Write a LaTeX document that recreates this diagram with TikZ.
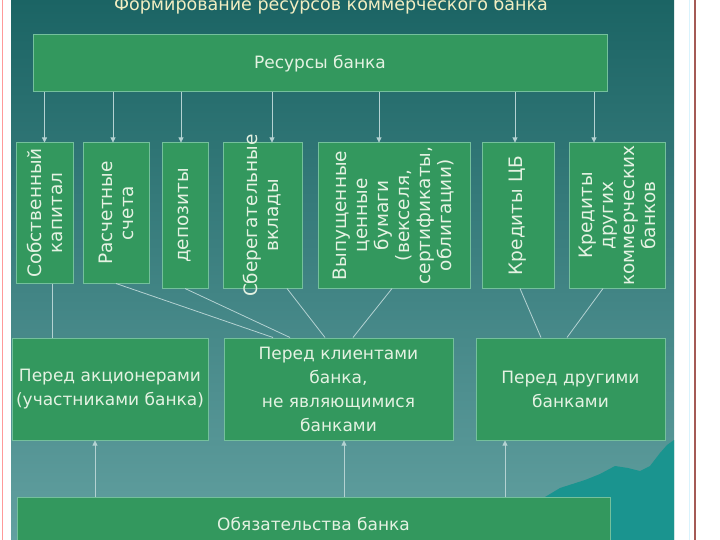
\documentclass[tikz,border=0pt]{standalone}
\usepackage{fontspec}
\setmainfont{DejaVu Sans}
\usetikzlibrary{arrows.meta}

\definecolor{bgtop}{HTML}{1B6464}
\definecolor{bgmid}{HTML}{3C8081}
\definecolor{bgbot}{HTML}{62A0A0}
\definecolor{boxgreen}{HTML}{33985E}
\definecolor{boxedge}{HTML}{74C09C}
\definecolor{txt}{HTML}{E4F2E2}
\definecolor{linkcol}{HTML}{B4D2D2}
\definecolor{hill}{HTML}{1A948F}
\definecolor{titlecol}{HTML}{F2EEC2}
\definecolor{rim}{HTML}{A45A55}

\begin{document}
\begin{tikzpicture}[
    x=1pt, y=-1pt,
    % green boxes
    gbox/.style={draw=boxedge, fill=boxgreen, line width=1pt, inner sep=0pt},
    % boxes with horizontal text
    hbox/.style={gbox, text=txt, font=\fontsize{17}{24}\selectfont, align=center},
    % turned text of the narrow boxes
    vtext/.style={rotate=90, text=txt, font=\fontsize{18.5}{21}\selectfont, align=center, inner sep=0pt},
    % thin light lines
    link/.style={draw=linkcol, line width=0.8pt},
    arr/.style={link, -{Triangle[length=5pt,width=5pt]}}
]
\clip (0,0) rectangle (720,540);

% frame and background
\fill[white] (0,0) rectangle (720,540);
\draw[red!40, line width=0.8pt] (2,0) -- (2,540);
\shade[top color=bgtop, middle color=bgmid, bottom color=bgbot] (11,0) rectangle (674,540);
\fill[hill] (545,497) -- (560,488) -- (585,480) -- (600,474) -- (615,466) -- (628,468)
    -- (640,471) -- (650,466) -- (660,453) -- (667,445) -- (674,440) -- (674,540) -- (545,540) -- cycle;
\draw[cyan!15, line width=0.6pt] (689,0) -- (689,540);
\draw[rim, line width=1.8pt] (695,0) -- (695,540);

% title
\node[anchor=base, text=titlecol, font=\fontsize{17.5}{20}\selectfont] (title) at (331,11)
    {Формирование ресурсов коммерческого банка};

% resources
\node[hbox, minimum width=574, minimum height=57] (res) at (320,63.5) {Ресурсы банка};

\node[gbox, minimum width=57, minimum height=140] (own) at (44.5,213) {};
\node[gbox, minimum width=66, minimum height=140] (acc) at (116,213) {};
\node[gbox, minimum width=46, minimum height=145] (dep) at (185,215.5) {};
\node[gbox, minimum width=79, minimum height=145] (sav) at (262.5,215.5) {};
\node[gbox, minimum width=152, minimum height=145] (sec) at (394,215.5) {};
\node[gbox, minimum width=72, minimum height=145] (cbr) at (518,215.5) {};
\node[gbox, minimum width=96, minimum height=145] (oth) at (617,215.5) {};

\node[vtext] (own-t) at (own) {Собственный\\капитал};
\node[vtext] (acc-t) at (acc) {Расчетные\\счета};
\node[vtext] (dep-t) at (dep) {депозиты};
\node[vtext] (sav-t) at (sav) {Сберегательные\\вклады};
\node[vtext] (sec-t) at (sec) {Выпущенные\\ценные\\бумаги\\(векселя,\\сертификаты,\\облигации)};
\node[vtext] (cbr-t) at (cbr) {Кредиты ЦБ};
\node[vtext] (oth-t) at (oth) {Кредиты\\других\\коммерческих\\банков};

% liabilities
\node[hbox, minimum width=196, minimum height=102] (sh) at (110,389) {Перед акционерами\\(участниками банка)};
\node[hbox, minimum width=229, minimum height=102] (cl) at (338.5,389) {Перед клиентами\\банка,\\не являющимися\\банками};
\node[hbox, minimum width=189, minimum height=102] (bk) at (570.5,389) {Перед другими\\банками};
\node[hbox, minimum width=593, minimum height=54] (obl) at (313.5,524) {Обязательства банка};

% arrows from the resources
\draw[arr] (own.north |- res.south) -- (own.north);
\draw[arr] ([xshift=-3pt]acc.north |- res.south) -- ([xshift=-3pt]acc.north);
\draw[arr] ([xshift=-4pt]dep.north |- res.south) -- ([xshift=-4pt]dep.north);
\draw[arr] ([xshift=9.5pt]sav.north |- res.south) -- ([xshift=9.5pt]sav.north);
\draw[arr] ([xshift=-15pt]sec.north |- res.south) -- ([xshift=-15pt]sec.north);
\draw[arr] ([xshift=-3pt]cbr.north |- res.south) -- ([xshift=-3pt]cbr.north);
\draw[arr] ([xshift=-23pt]oth.north |- res.south) -- ([xshift=-23pt]oth.north);

% lines to the liabilities
\draw[link] ([xshift=7.5pt]own.south) -- ([xshift=7.5pt]own.south |- sh.north);
\draw[link] (acc.south) -- ([xshift=-65.5pt]cl.north);
\draw[link] (dep.south) -- ([xshift=-48.5pt]cl.north);
\draw[link] ([xshift=24.5pt]sav.south) -- ([xshift=-13.5pt]cl.north);
\draw[link] ([xshift=-2pt]sec.south) -- ([xshift=14.5pt]cl.north);
\draw[link] ([xshift=2pt]cbr.south) -- ([xshift=-29.5pt]bk.north);
\draw[link] ([xshift=-14pt]oth.south) -- ([xshift=-3.5pt]bk.north);

% arrows from the obligations
\draw[arr] ([xshift=-15pt]sh.south |- obl.north) -- ([xshift=-15pt]sh.south);
\draw[arr] ([xshift=5.5pt]cl.south |- obl.north) -- ([xshift=5.5pt]cl.south);
\draw[arr] ([xshift=-65.5pt]bk.south |- obl.north) -- ([xshift=-65.5pt]bk.south);

\end{tikzpicture}
\end{document}
